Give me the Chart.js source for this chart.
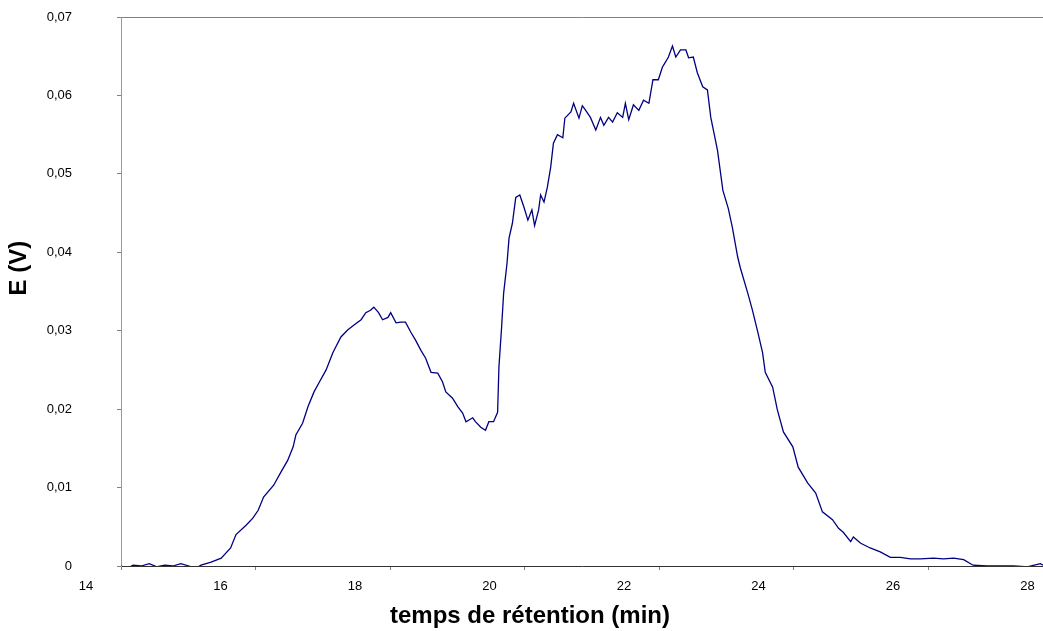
<!DOCTYPE html>
<html>
<head>
<meta charset="utf-8">
<script src="https://cdn.jsdelivr.net/npm/chart.js@4"></script>
<style>
  body { margin: 0; background: #fff; }
  #wrap { width: 1043px; height: 631px; }
</style>
</head>
<body>
<div id="wrap"><canvas id="myChart"></canvas></div>
<script>
// retention time (min) and detector signal (V)
var times = [14.52, 14.61, 14.70, 14.82, 14.94, 15.05, 15.17, 15.29, 15.41, 15.53, 15.63, 15.71, 15.86,
  16.01, 16.15, 16.23, 16.38, 16.48, 16.56, 16.64, 16.79, 16.90, 17.00, 17.08, 17.12, 17.22, 17.30,
  17.39, 17.46, 17.57, 17.67, 17.79, 17.89, 17.98, 18.09, 18.16, 18.23, 18.28, 18.35, 18.41, 18.49,
  18.53, 18.61, 18.68, 18.75, 18.83, 18.90, 18.98, 19.05, 19.13, 19.23, 19.30, 19.35, 19.45, 19.53,
  19.60, 19.65, 19.75, 19.79, 19.87, 19.94, 19.99, 20.06, 20.12, 20.14, 20.18, 20.21, 20.26, 20.29,
  20.34, 20.39, 20.45, 20.51, 20.57, 20.63, 20.67, 20.73, 20.76, 20.81, 20.86, 20.91, 20.95, 21.01,
  21.09, 21.12, 21.21, 21.25, 21.33, 21.38, 21.43, 21.50, 21.58, 21.65, 21.70, 21.77, 21.83, 21.90,
  21.98, 22.02, 22.07, 22.14, 22.22, 22.29, 22.37, 22.43, 22.51, 22.57, 22.62, 22.66, 22.72, 22.77,
  22.84, 22.92, 22.96, 23.03, 23.09, 23.17, 23.24, 23.29, 23.39, 23.47, 23.55, 23.61, 23.69, 23.73,
  23.84, 23.91, 23.99, 24.06, 24.10, 24.21, 24.28, 24.37, 24.51, 24.59, 24.73, 24.85, 24.95, 25.10,
  25.19, 25.26, 25.37, 25.41, 25.52, 25.66, 25.81, 25.96, 26.11, 26.26, 26.41, 26.60, 26.75, 26.90,
  27.05, 27.19, 27.40, 27.60, 27.79, 28.00, 28.19, 28.23];
var signal = [0, -0.0003, 0.0001, 0, 0.0003, -0.0001, 0.0001, 0, 0.0003, 0, -0.0003, 0.0001, 0.0005,
  0.0010, 0.0023, 0.0040, 0.0052, 0.0061, 0.0071, 0.0088, 0.0103, 0.0120, 0.0135, 0.0152, 0.0167, 0.0182, 0.0203,
  0.0222, 0.0233, 0.0250, 0.0272, 0.0292, 0.0301, 0.0307, 0.0314, 0.0323, 0.0326, 0.0330, 0.0323, 0.0314, 0.0317,
  0.0323, 0.0310, 0.0311, 0.0311, 0.0298, 0.0288, 0.0275, 0.0265, 0.0247, 0.0246, 0.0235, 0.0222, 0.0214, 0.0203,
  0.0195, 0.0184, 0.0189, 0.0184, 0.0177, 0.0173, 0.0184, 0.0184, 0.0196, 0.0254, 0.0305, 0.0348, 0.0386, 0.0418,
  0.0437, 0.0470, 0.0473, 0.0458, 0.0441, 0.0454, 0.0434, 0.0454, 0.0473, 0.0464, 0.0483, 0.0509, 0.0539, 0.0550,
  0.0546, 0.0571, 0.0579, 0.0590, 0.0571, 0.0587, 0.0581, 0.0572, 0.0556, 0.0572, 0.0562, 0.0572, 0.0566, 0.0578,
  0.0572, 0.0590, 0.0569, 0.0588, 0.0581, 0.0594, 0.0590, 0.0620, 0.0620, 0.0636, 0.0643, 0.0649, 0.0663, 0.0649,
  0.0658, 0.0658, 0.0648, 0.0649, 0.0629, 0.0611, 0.0607, 0.0572, 0.0530, 0.0479, 0.0456, 0.0432, 0.0394, 0.0380,
  0.0348, 0.0326, 0.0298, 0.0272, 0.0247, 0.0228, 0.0199, 0.0171, 0.0152, 0.0126, 0.0106, 0.0093, 0.0069, 0.0059,
  0.0048, 0.0043, 0.0031, 0.0037, 0.0029, 0.0023, 0.0018, 0.0011, 0.0011, 0.0009, 0.0009, 0.0010, 0.0009, 0.0010,
  0.0008, 0.0001, 0, 0, 0, -0.0001, 0.0003, 0.0001];

var xTickLabels = [14, 16, 18, 20, 22, 24, 26, 28];
var yTickValues = [0, 0.01, 0.02, 0.03, 0.04, 0.05, 0.06, 0.07];
var tickShift = 0.52; // tick marks sit half a minute after the labels

var points = times.map(function (t, i) { return {x: t, y: signal[i]}; });

new Chart("myChart", {
  type: "line",
  data: {
    datasets: [{
      data: points,
      borderColor: "#000080",
      borderWidth: 1.3,
      pointRadius: 0,
      tension: 0,
      fill: false
    }]
  },
  options: {
    responsive: true,
    maintainAspectRatio: false,
    animation: false,
    layout: { padding: { top: 17, right: 0, left: 17, bottom: 0 } },
    plugins: {
      legend: { display: false },
      tooltip: { enabled: false },
      // x axis title, centred on the whole picture like the original
      title: {
        display: true,
        position: "bottom",
        text: "temps de rétention (min)",
        color: "#000",
        font: { family: "Liberation Sans", size: 24, weight: "bold" },
        padding: { top: 0, bottom: 0 }
      }
    },
    scales: {
      x: {
        type: "linear",
        min: 14.52,
        max: 28.23,
        afterBuildTicks: function (scale) {
          scale.ticks = xTickLabels.map(function (v) { return {value: v + tickShift}; });
        },
        afterFit: function (scale) {
          scale.height = 36.2;
          scale.paddingLeft = 0;
          scale.paddingRight = 0;
        },
        border: { display: true, color: "#333333", width: 1 },
        grid: { drawOnChartArea: false, tickLength: 4, tickColor: "#808080" },
        ticks: {
          autoSkip: false,
          maxRotation: 0,
          labelOffset: -35,
          padding: 9,
          color: "#000",
          font: { family: "Liberation Sans", size: 13 },
          callback: function (v) { return String(Math.round(v - tickShift)); }
        }
      },
      y: {
        min: 0,
        max: 0.07,
        afterBuildTicks: function (scale) {
          scale.ticks = yTickValues.map(function (v) { return {value: v}; });
        },
        afterFit: function (scale) {
          scale.width = 104;
          scale.paddingTop = 0;
          scale.paddingBottom = 0;
        },
        border: { display: true, color: "#999999", width: 1 },
        grid: {
          drawOnChartArea: true,
          tickLength: 4,
          tickColor: "#808080",
          color: function (ctx) {
            return ctx.tick && ctx.tick.value >= 0.0699 ? "#808080" : "rgba(0,0,0,0)";
          }
        },
        ticks: {
          padding: 45,
          color: "#000",
          font: { family: "Liberation Sans", size: 13 },
          callback: function (v) {
            return v === 0 ? "0" : v.toFixed(2).replace(".", ",");
          }
        },
        title: {
          display: true,
          text: "\u00a0\u00a0\u00a0\u00a0\u00a0\u00a0\u00a0E (V)",
          color: "#000",
          font: { family: "Liberation Sans", size: 24, weight: "bold" },
          padding: { top: -12, bottom: 0 }
        }
      }
    }
  }
});
</script>
</body>
</html>
